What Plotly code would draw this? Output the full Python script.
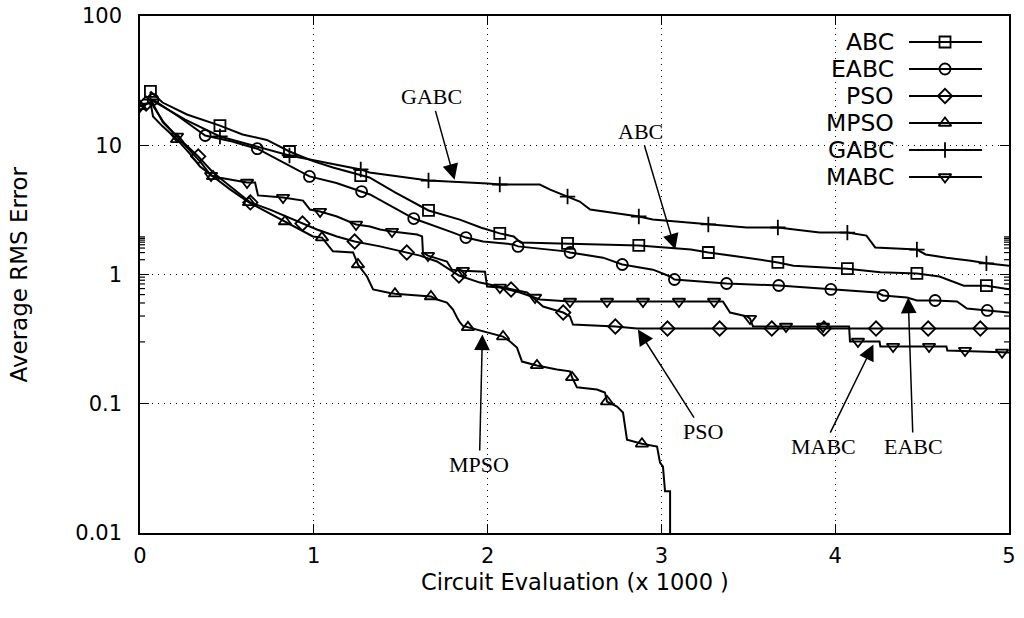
import math
import plotly.graph_objects as go

# ---------------- data (x: circuit evaluations / 1000, y: average RMS error) ----------------
abc_x = [0.06, 0.13, 0.27, 0.35, 0.46, 0.59, 0.67, 0.73, 0.86, 1.0, 1.11, 1.27, 1.32, 1.47, 1.66, 1.84, 1.96,
         2.07, 2.15, 2.19, 2.46, 2.87, 3.17, 3.27, 3.49, 3.67, 3.76, 4.07, 4.26, 4.47, 4.6, 4.74, 4.87, 5.0]
abc_y = [26.1, 21.4, 17.3, 16.0, 14.2, 12.1, 11.5, 11.0, 8.95, 7.5, 6.73, 5.83, 5.63, 4.3, 3.13, 2.66, 2.31,
         2.08, 1.97, 1.77, 1.74, 1.68, 1.56, 1.48, 1.35, 1.24, 1.17, 1.11, 1.04, 1.02, 0.965, 0.82, 0.82, 0.77]
abc_mx = [0.06, 0.46, 0.86, 1.27, 1.66, 2.07, 2.46, 2.87, 3.27, 3.67, 4.07, 4.47, 4.87]
abc_my = [26.1, 14.2, 8.95, 5.83, 3.13, 2.08, 1.74, 1.68, 1.48, 1.24, 1.11, 1.02, 0.82]

eabc_x = [0.075, 0.23, 0.375, 0.53, 0.675, 0.80, 0.975, 1.13, 1.275, 1.323, 1.575, 1.709, 1.801, 1.875, 1.974,
          2.146, 2.175, 2.45, 2.475, 2.664, 2.775, 2.952, 3.05, 3.075, 3.375, 3.675, 3.975, 4.24, 4.275, 4.413,
          4.47, 4.575, 4.701, 4.758, 4.875, 5.0]
eabc_y = [22.6, 16.4, 11.9, 10.7, 9.4, 7.7, 5.74, 5.1, 4.38, 4.16, 2.71, 2.35, 2.11, 1.93, 1.8,
          1.71, 1.65, 1.51, 1.48, 1.35, 1.195, 1.09, 0.965, 0.915, 0.852, 0.822, 0.766, 0.726, 0.688, 0.664,
          0.629, 0.629, 0.618, 0.546, 0.527, 0.508]
eabc_mx = [0.075, 0.375, 0.675, 0.975, 1.275, 1.575, 1.875, 2.175, 2.475, 2.775, 3.075, 3.375, 3.675, 3.975,
           4.275, 4.575, 4.875]
eabc_my = [22.6, 11.9, 9.4, 5.74, 4.38, 2.71, 1.93, 1.65, 1.48, 1.195, 0.915, 0.852, 0.822, 0.766,
           0.688, 0.629, 0.527]

pso_x = [0.0, 0.035, 0.07, 0.132, 0.213, 0.335, 0.42, 0.518, 0.635, 0.748, 0.935, 1.018, 1.133, 1.235, 1.381,
         1.535, 1.611, 1.709, 1.835, 1.956, 2.135, 2.227, 2.319, 2.435, 2.474, 2.491, 2.735, 2.86, 5.0]
pso_y = [20.0, 21.0, 21.5, 15.0, 11.7, 8.2, 6.15, 4.79, 3.61, 3.18, 2.48, 2.23, 1.97, 1.8, 1.65,
         1.48, 1.40, 1.26, 0.982, 0.866, 0.766, 0.726, 0.565, 0.508, 0.474, 0.41, 0.396, 0.382, 0.382]
pso_mx = [0.035, 0.335, 0.635, 0.935, 1.235, 1.535, 1.835, 2.135, 2.435, 2.735, 3.035, 3.335, 3.635, 3.935,
          4.235, 4.535, 4.835]
pso_my = [21.0, 8.2, 3.61, 2.48, 1.8, 1.48, 0.982, 0.766, 0.508, 0.396, 0.382, 0.382, 0.382, 0.382,
          0.382, 0.382, 0.382]

mpso_x = [0.0, 0.06, 0.075, 0.13, 0.213, 0.29, 0.345, 0.42, 0.52, 0.627, 0.834, 0.995, 1.047, 1.11, 1.226,
          1.254, 1.306, 1.341, 1.438, 1.467, 1.674, 1.709, 1.766, 1.801, 1.824, 1.841, 1.858, 1.887, 1.997,
          2.089, 2.129, 2.169, 2.198, 2.284, 2.399, 2.474, 2.486, 2.514, 2.629, 2.675, 2.687, 2.745, 2.779,
          2.802, 2.888, 2.975, 2.992, 3.009, 3.021, 3.05, 3.05]
mpso_y = [20.0, 21.5, 16.7, 14.0, 11.1, 8.5, 6.85, 5.74, 4.54, 3.61, 2.57, 1.97, 1.93, 1.51, 1.48,
          1.195, 0.965, 0.766, 0.72, 0.71, 0.676, 0.64, 0.607, 0.536, 0.465, 0.425, 0.40, 0.39, 0.356,
          0.331, 0.303, 0.272, 0.212, 0.198, 0.184, 0.178, 0.16, 0.134, 0.129, 0.122, 0.104, 0.095, 0.0855,
          0.0527, 0.049, 0.0466, 0.035, 0.0326, 0.021, 0.021, 0.001]
mpso_mx = [0.0, 0.213, 0.42, 0.627, 0.834, 1.047, 1.254, 1.467, 1.674, 1.887, 2.089, 2.284, 2.486, 2.687, 2.888]
mpso_my = [20.0, 11.1, 5.74, 3.61, 2.57, 1.93, 1.195, 0.71, 0.676, 0.39, 0.331, 0.198, 0.16, 0.104, 0.049]

gabc_x = [0.06, 0.26, 0.46, 0.86, 1.27, 1.32, 1.66, 1.8, 2.0, 2.07, 2.3, 2.36, 2.46, 2.53, 2.59, 2.87, 2.95,
          3.16, 3.27, 3.49, 3.67, 3.91, 4.07, 4.18, 4.23, 4.47, 4.52, 4.64, 4.78, 4.87, 5.0]
gabc_y = [22.6, 15.8, 11.7, 8.34, 6.5, 6.16, 5.33, 5.24, 5.05, 4.97, 4.97, 4.54, 4.01, 3.67, 3.18, 2.81, 2.66,
          2.52, 2.44, 2.31, 2.31, 2.11, 2.11, 2.0, 1.62, 1.56, 1.43, 1.35, 1.28, 1.22, 1.17]
gabc_mx = [0.06, 0.46, 0.86, 1.27, 1.66, 2.07, 2.46, 2.87, 3.27, 3.67, 4.07, 4.47, 4.87]
gabc_my = [22.6, 11.7, 8.34, 6.5, 5.33, 4.97, 4.01, 2.81, 2.44, 2.31, 2.11, 1.56, 1.22]

mabc_x = [0.0, 0.063, 0.132, 0.213, 0.288, 0.345, 0.409, 0.46, 0.616, 0.662, 0.679, 0.823, 0.938, 0.978,
          1.036, 1.133, 1.243, 1.323, 1.381, 1.45, 1.594, 1.623, 1.628, 1.657, 1.766, 1.795, 1.858, 1.985,
          1.997, 2.071, 2.186, 2.273, 2.302, 2.474, 3.354, 3.395, 3.493, 3.51, 3.527, 4.08, 4.085, 4.255,
          4.26, 4.64, 4.645, 4.96, 5.0]
mabc_y = [20.0, 21.4, 15.3, 11.7, 9.2, 7.5, 5.83, 5.6, 5.15, 5.15, 4.09, 3.94, 3.73, 3.18,
          3.07, 2.81, 2.44, 2.35, 2.23, 2.15, 2.04, 1.97, 1.48, 1.40, 1.26, 1.09, 1.07, 1.05,
          0.808, 0.794, 0.726, 0.664, 0.64, 0.618, 0.618, 0.508, 0.474, 0.456, 0.396, 0.396, 0.303, 0.303,
          0.277, 0.277, 0.258, 0.25, 0.249]
mabc_mx = [0.0, 0.213, 0.409, 0.616, 0.823, 1.036, 1.243, 1.45, 1.657, 1.858, 2.071, 2.273, 2.474, 2.687,
           2.894, 3.101, 3.303, 3.51, 3.717, 3.93, 4.131, 4.333, 4.54, 4.747, 4.96]
mabc_my = [20.0, 11.7, 5.83, 5.15, 3.94, 3.07, 2.44, 2.15, 1.40, 1.07, 0.794, 0.664, 0.618, 0.618,
           0.618, 0.618, 0.618, 0.456, 0.396, 0.396, 0.303, 0.277, 0.277, 0.258, 0.25]

series_names = ["ABC", "EABC", "PSO", "MPSO", "GABC", "MABC"]
series_symbols = ["square-open", "circle-open", "diamond-open", "triangle-up-open", "cross-thin-open",
                  "triangle-down-open"]

x_ticks = [0, 1, 2, 3, 4, 5]
y_ticks = [0.01, 0.1, 1, 10, 100]
y_tick_text = ["0.01", "0.1", "1", "10", "100"]
y_minor_mult = [2, 3, 4, 5, 6, 7, 8, 9]

x_title = "Circuit Evaluation (x 1000 )"
y_title = "Average RMS Error"

# annotation labels: (text, tip x, tip y, text offset in px)
ann_labels = [
    ("GABC", 1.81, 5.4, (-23, -83)),
    ("ABC", 3.08, 1.56, (-35, -118)),
    ("MPSO", 1.97, 0.344, (-3, 130)),
    ("PSO", 2.865, 0.375, (65, 102)),
    ("MABC", 4.22, 0.287, (-50, 102)),
    ("EABC", 4.42, 0.664, (5, 149)),
]

# ---------------- figure ----------------
W, H = 1024, 618
L, R, T, B = 140, 15, 16, 85
PW, PH = W - L - R, H - T - B
SANS = "DejaVu Sans"
SERIF = "Liberation Serif"

data = [
    (abc_x, abc_y, abc_mx, abc_my),
    (eabc_x, eabc_y, eabc_mx, eabc_my),
    (pso_x, pso_y, pso_mx, pso_my),
    (mpso_x, mpso_y, mpso_mx, mpso_my),
    (gabc_x, gabc_y, gabc_mx, gabc_my),
    (mabc_x, mabc_y, mabc_mx, mabc_my),
]

fig = go.Figure()
MSIZE = 11
for name, sym, (x, y, mx, my) in zip(series_names, series_symbols, data):
    fig.add_trace(go.Scatter(x=x, y=y, mode="lines", line=dict(color="black", width=2),
                             showlegend=False, name=name, hoverinfo="skip"))
    fig.add_trace(go.Scatter(x=mx, y=my, mode="markers", showlegend=False, name=name,
                             marker=dict(symbol=sym, size=MSIZE, color="black",
                                         line=dict(color="black", width=1.8))))

# manual legend (text left of sample, top right), in pixel-like overlay axes
LEG_Y0, LEG_DY = T + 26, 27
LEG_XT, LEG_X0, LEG_X1, LEG_XM = 896, 909, 982, 945
annotations = []
for i, (name, sym) in enumerate(zip(series_names, series_symbols)):
    ry = LEG_Y0 + i * LEG_DY
    fig.add_trace(go.Scatter(x=[LEG_X0, LEG_X1], y=[ry, ry], xaxis="x2", yaxis="y2", mode="lines",
                             line=dict(color="black", width=2), showlegend=False, hoverinfo="skip"))
    fig.add_trace(go.Scatter(x=[LEG_XM], y=[ry], xaxis="x2", yaxis="y2", mode="markers",
                             marker=dict(symbol=sym, size=MSIZE, color="black",
                                         line=dict(color="black", width=1.8)),
                             showlegend=False, hoverinfo="skip"))
    annotations.append(dict(x=LEG_XT, y=ry, xref="x2", yref="y2", text=name, showarrow=False,
                            xanchor="right", yanchor="middle",
                            font=dict(family=SANS, size=23.5, color="black")))

for text, tx, ty, (ox, oy) in ann_labels:
    annotations.append(dict(x=tx, y=math.log10(ty), xref="x", yref="y", text=text, showarrow=True,
                            ax=ox, ay=oy, arrowhead=2, arrowsize=2.1, arrowwidth=1.5, arrowcolor="black",
                            standoff=0, startstandoff=0,
                            font=dict(family=SERIF, size=22, color="black")))

# axis titles placed as annotations (pixel positions converted to paper units)
annotations.append(dict(x=0.5, y=-(582 - (T + PH)) / PH, xref="paper", yref="paper", text=x_title,
                        showarrow=False, xanchor="center", yanchor="middle",
                        font=dict(family=SANS, size=22.5, color="black")))
annotations.append(dict(x=-(L - 18) / PW, y=0.5, xref="paper", yref="paper", text=y_title, textangle=-90,
                        showarrow=False, xanchor="center", yanchor="middle",
                        font=dict(family=SANS, size=23, color="black")))

# minor log ticks (2..9 in every decade) on the left and right frame, as short pixel-length shapes
MINOR_LEN = 5
shapes = []
for e in range(-2, 2):
    for m in y_minor_mult:
        yv = math.log10(m * 10 ** e)
        for anchor, d in ((0, MINOR_LEN), (5, -MINOR_LEN)):
            shapes.append(dict(type="line", xref="x", yref="y", xsizemode="pixel", xanchor=anchor,
                               x0=0, x1=d, y0=yv, y1=yv, line=dict(color="black", width=1.2),
                               layer="above"))

axis_common = dict(showline=True, linecolor="black", linewidth=1.5, mirror="allticks",
                   ticks="inside", ticklen=9, tickwidth=1.2, tickcolor="black", automargin=False,
                   showgrid=True, gridcolor="black", gridwidth=1, griddash="1px,5px",
                   zeroline=False, tickfont=dict(family=SANS, size=21, color="black"))

fig.update_layout(
    width=W, height=H, margin=dict(l=L, r=R, t=T, b=B),
    paper_bgcolor="white", plot_bgcolor="white",
    xaxis=dict(range=[0, 5], tickvals=x_ticks, ticktext=[str(v) for v in x_ticks], ticklabelstandoff=3,
               **axis_common),
    yaxis=dict(type="log", range=[-2, 2], tickvals=y_ticks, ticktext=y_tick_text, ticklabelstandoff=12,
               **axis_common),
    xaxis2=dict(range=[L, W - R], overlaying="x", visible=False, fixedrange=True),
    yaxis2=dict(range=[H - B, T], overlaying="y", visible=False, fixedrange=True),
    annotations=annotations,
    shapes=shapes,
    showlegend=False,
)

fig.write_html("out.html", config={"displayModeBar": False},
               post_script="document.body.style.margin='0';")
